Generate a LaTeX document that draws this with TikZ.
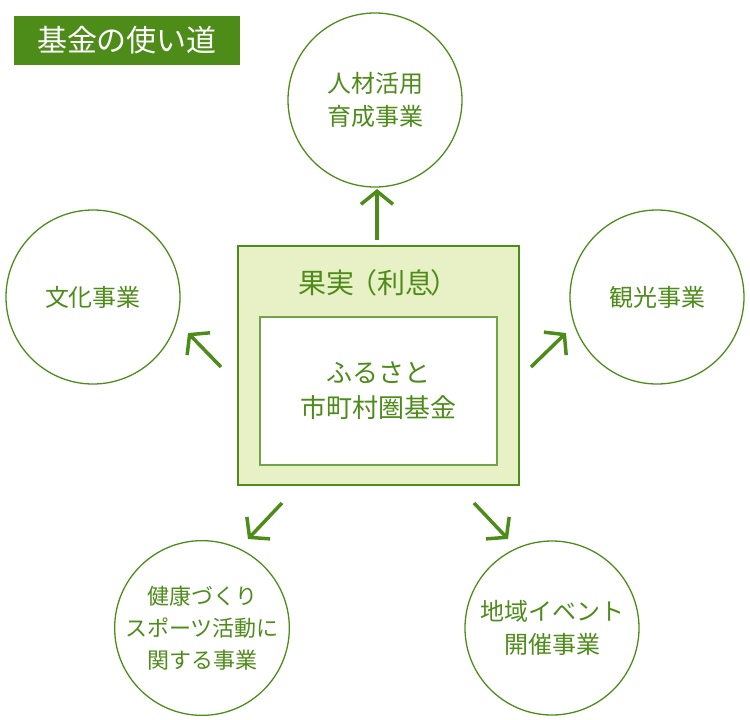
\documentclass[tikz,border=0pt]{standalone}
\usepackage{fontspec}
\setmainfont{Noto Sans CJK JP}
\usetikzlibrary{arrows.meta}
\definecolor{gr}{HTML}{4E8C1A}
\definecolor{lg}{HTML}{E8F0C6}
\tikzset{
 circ/.style={draw=gr,line width=1.3pt,circle,minimum size=174pt,inner sep=0pt,align=center,text=gr,font=\fontsize{24pt}{33pt}\selectfont},
 arr/.style={draw=gr,line width=3.5pt,-{Straight Barb[length=13pt,width=32pt,line width=3.5pt]}}
}
\begin{document}
\begin{tikzpicture}[x=1pt,y=-1pt]
\useasboundingbox (0,0) rectangle (750,720);
\node[fill=gr,text=white,minimum width=226pt,minimum height=49pt,inner sep=0pt,font=\fontsize{30pt}{34pt}\selectfont] (title) at (127,40) {基金の使い道};
\node[circ] (top) at (375,100) {人材活用\\育成事業};
\node[circ] (left) at (93,297) {文化事業};
\node[circ] (right) at (657,297) {観光事業};
\node[circ,font=\fontsize{22pt}{32pt}\selectfont] (bl) at (202,628) {健康づくり\\スポーツ活動に\\関する事業};
\node[circ] (br) at (552,628) {地域イベント\\開催事業};
\node[draw=gr,fill=lg,line width=1.3pt,minimum width=281pt,minimum height=239pt,inner sep=0pt] (outer) at (378.5,365.5) {};
\node[text=gr,font=\fontsize{28pt}{32pt}\selectfont] (otitle) at (378,283) {果実\kern-5pt（利息\kern-3pt）};
\node[draw=gr!80,fill=white,line width=1.2pt,minimum width=237pt,minimum height=148pt,inner sep=0pt,align=center,text=gr,font=\fontsize{26pt}{35pt}\selectfont] (inner) at (378.5,391) {ふるさと\\市町村圏基金};
\coordinate (a1) at (377,240); \coordinate (b1) at (377,189);
\coordinate (a2) at (221,367); \coordinate (b2) at (188,333);
\coordinate (a3) at (531,367); \coordinate (b3) at (566,333);
\coordinate (a4) at (282,503); \coordinate (b4) at (248,539);
\coordinate (a5) at (474,503); \coordinate (b5) at (508,539);
\foreach \i in {1,...,5} \draw[arr] (a\i) -- (b\i);
\end{tikzpicture}
\end{document}
